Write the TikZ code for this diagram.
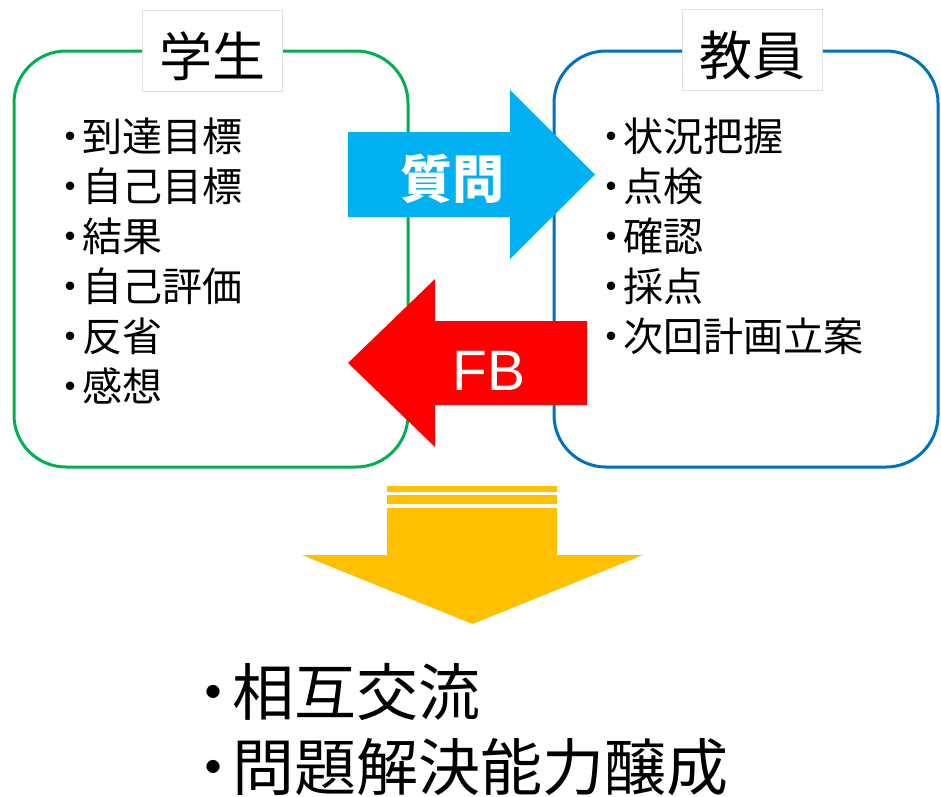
\documentclass[tikz,border=0pt]{standalone}
\usepackage{fontspec}
\setmainfont{Noto Sans CJK JP}
\newfontfamily\latinsans{Liberation Sans}
\definecolor{framegreen}{HTML}{00B050}
\definecolor{frameblue}{HTML}{0070C0}
\definecolor{askblue}{HTML}{00B0F0}
\definecolor{fbred}{HTML}{FF0000}
\definecolor{goldarrow}{HTML}{FFC000}
\newcommand{\dotmark}{\makebox[0.6em][c]{・}}

\begin{document}
\begin{tikzpicture}[x=1pt, y=-1pt,
		every node/.style = {inner sep=0pt, outer sep=0pt},
		frame/.style = {line width=3pt, rounded corners=52pt},
		titlebox/.style = {draw=black!12, fill=white, line width=0.8pt,
			minimum width=140pt, minimum height=81pt,
			text height=51pt, text depth=0pt,
			font=\fontsize{53}{53}\selectfont},
		item/.style = {anchor=base west, font=\fontsize{40}{40}\selectfont},
		result/.style = {anchor=base west, font=\fontsize{62}{62}\selectfont},
		onarrow/.style = {text=white}]
	\useasboundingbox (0,0) rectangle (941,796);
	\draw[frame, framegreen] (14,51) rectangle (408,467);
	\draw[frame, frameblue] (554,51) rectangle (938,467);
	\node[titlebox] (student) at (212,50.5) {学生};
	\node[titlebox] (teacher) at (752.5,50) {教員};
	\foreach \txt [count=\i] in {到達目標,自己目標,結果,自己評価,反省,感想}
		\node[item] (s\i) at (58,101+50*\i) {\dotmark\txt};
	\foreach \txt [count=\i] in {状況把握,点検,確認,採点,次回計画立案}
		\node[item] (t\i) at (599,101+50*\i) {\dotmark\txt};
	\fill[askblue] (348,132) -- (510,132) -- (510,90) -- (595,174.5)
		-- (510,259) -- (510,217) -- (348,217) -- cycle;
	\fill[fbred] (348,363) -- (435,279) -- (435,321) -- (587,321)
		-- (587,405) -- (435,405) -- (435,447) -- cycle;
	\node[onarrow, font=\fontsize{52}{52}\selectfont\bfseries] (ask) at (452,179) {質問};
	\node[onarrow, font=\fontsize{57}{57}\selectfont\latinsans] (fb) at (489,371) {FB};
	\fill[goldarrow] (387,486) rectangle (557,492);
	\fill[goldarrow] (387,495) rectangle (557,504);
	\fill[goldarrow] (387,508) -- (557,508) -- (557,555) -- (643,555)
		-- (472.5,624) -- (302,555) -- (387,555) -- cycle;
	\node[result] (r1) at (195,715) {\dotmark 相互交流};
	\node[result] (r2) at (195,790) {\dotmark 問題解決能力醸成};
\end{tikzpicture}
\end{document}
